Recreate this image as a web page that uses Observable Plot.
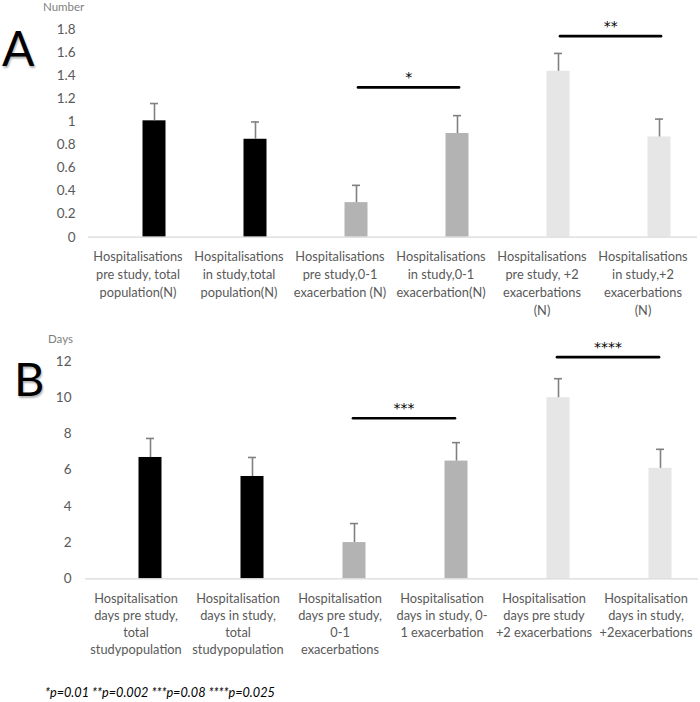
<!DOCTYPE html>
<html><head><meta charset="utf-8">
<script src="https://cdn.jsdelivr.net/npm/d3@7"></script>
<script src="https://cdn.jsdelivr.net/npm/@observablehq/plot@0.6"></script>
<style>
body{margin:0;background:#fff;}
#wrap{position:relative;width:700px;height:702px;overflow:hidden;font-family:Lato,sans-serif;background:#fff;}
.panel{position:absolute;left:0;}
.letter{position:absolute;font-family:Lato,sans-serif;line-height:1;color:#000;text-shadow:1px 2px 2px rgba(0,0,0,0.3);}
.ylab{position:absolute;font-size:11.5px;color:#7f7f7f;line-height:1;}
.foot{position:absolute;left:45px;top:686px;font-size:12.7px;font-style:italic;color:#000;line-height:1;}
</style></head>
<body><div id="wrap"></div>
<script>
// ---- Panel A data ----
const labelsA = [
  "Hospitalisations\npre study, total\npopulation(N)",
  "Hospitalisations\nin study,total\npopulation(N)",
  "Hospitalisations\npre study,0-1\nexacerbation (N)",
  "Hospitalisations\nin study,0-1\nexacerbation(N)",
  "Hospitalisations\npre study, +2\nexacerbations\n(N)",
  "Hospitalisations\nin study,+2\nexacerbations\n(N)"
];
const valuesA = [1.01, 0.85, 0.30, 0.90, 1.44, 0.87];
const errorsA = [0.15, 0.15, 0.15, 0.155, 0.155, 0.155];
const ticksA = [0, 0.2, 0.4, 0.6, 0.8, 1, 1.2, 1.4, 1.6, 1.8];
const sigTextA = ["*", "**"];
const sigFromA = [2, 4];
const sigLevelA = [1.3, 1.745];

// ---- Panel B data ----
const labelsB = [
  "Hospitalisation\ndays pre study,\ntotal\nstudypopulation",
  "Hospitalisation\ndays in study,\ntotal\nstudypopulation",
  "Hospitalisation\ndays pre study,\n0-1\nexacerbations",
  "Hospitalisation\ndays in study, 0-\n1 exacerbation",
  "Hospitalisation\ndays pre study\n+2 exacerbations",
  "Hospitalisation\ndays in study,\n+2exacerbations"
];
const valuesB = [6.7, 5.65, 2.0, 6.5, 10.0, 6.1];
const errorsB = [1.05, 1.05, 1.05, 1.02, 1.05, 1.05];
const ticksB = [0, 2, 4, 6, 8, 10, 12];
const sigTextB = ["***", "****"];
const sigFromB = [2, 4];
const sigLevelB = [8.87, 12.24];

// group per bar (shared)
const groups = ["total", "total", "0-1", "0-1", "+2", "+2"];
const groupNames = ["total", "0-1", "+2"];
const groupColors = ["#000000", "#b3b3b3", "#e6e6e6"];

function panel(o) {
  const rows = o.labels.map((l, i) => ({label: l, value: o.values[i], top: o.values[i] + o.errors[i], group: groups[i]}));
  const sig = [];
  o.sigText.forEach((t, k) => {
    sig.push({k, label: o.labels[o.sigFrom[k]], y: o.sigLevel[k], t});
    sig.push({k, label: o.labels[o.sigFrom[k] + 1], y: o.sigLevel[k], t});
  });
  const sigStart = sig.filter((d, i) => i % 2 === 0);
  const step = (o.xRange[1] - o.xRange[0]) / o.labels.length;
  return Plot.plot({
    width: 700,
    height: o.height,
    marginLeft: o.marginLeft,
    marginRight: o.marginRight,
    style: {fontFamily: "Lato, sans-serif", color: "#595959", background: "transparent", overflow: "visible"},
    x: {type: "band", domain: o.labels, range: o.xRange, paddingInner: 0.775, paddingOuter: 0.3875, axis: null},
    y: {domain: o.yDomain, range: o.yRange, axis: null},
    color: {domain: groupNames, range: groupColors},
    marks: [
      Plot.axisY({ticks: o.ticks, tickSize: 0, tickPadding: o.tickPadding, fontSize: 13.5, label: null, tickFormat: d => String(d)}),
      Plot.barY(rows, {x: "label", y: "value", fill: "group", dx: o.barDx}),
      Plot.ruleY([0], {stroke: "#d9d9d9", strokeWidth: 1.2}),
      Plot.ruleX(rows, {x: "label", y1: "value", y2: "top", stroke: "#808080", strokeWidth: 1.6, dx: o.barDx}),
      Plot.tickY(rows, {x: "label", y: "top", stroke: "#808080", strokeWidth: 1.6, insetLeft: 7.5, insetRight: 7.5, dx: o.barDx}),
      Plot.line(sig, {x: "label", y: "y", z: "k", stroke: "#000", strokeWidth: 2.6, dx: o.sigDx}),
      Plot.text(sigStart, {x: "label", y: "y", text: "t", dx: step / 2 + o.sigDx, dy: -10, fontSize: 14, fontFamily: "DejaVu Sans", fill: "#000", letterSpacing: 1.5}),
      Plot.text(rows, {x: "label", y: () => 0, text: "label", lineAnchor: "top", dy: o.labelDy, fontSize: 12.8, lineHeight: o.lineHeight, fill: "#595959"})
    ]
  });
}

const wrap = document.getElementById("wrap");
function addPanel(o, top) {
  const svg = panel(o);
  svg.classList.add("panel");
  svg.style.top = top + "px";
  wrap.appendChild(svg);
}
function addDiv(cls, text, css) {
  const d = document.createElement("div");
  d.className = cls;
  d.textContent = text;
  Object.assign(d.style, css);
  wrap.appendChild(d);
}

addPanel({labels: labelsA, values: valuesA, errors: errorsA, ticks: ticksA,
  sigText: sigTextA, sigFrom: sigFromA, sigLevel: sigLevelA,
  height: 320, marginLeft: 88, marginRight: 3, tickPadding: 13,
  xRange: [85.2, 694.8], yDomain: [0, 1.8], yRange: [236.7, 29.3],
  barDx: 16.5, sigDx: 18,
  labelDy: 11, lineHeight: 1.41}, 0);

addPanel({labels: labelsB, values: valuesB, errors: errorsB, ticks: ticksB,
  sigText: sigTextB, sigFrom: sigFromB, sigLevel: sigLevelB,
  height: 340, marginLeft: 85, marginRight: 2, tickPadding: 14,
  xRange: [84.8, 696.8], yDomain: [0, 12], yRange: [258.3, 41],
  barDx: 14.5, sigDx: 13,
  labelDy: 12, lineHeight: 1.34}, 320);

addDiv("letter", "A", {left: "2px", top: "24px", fontSize: "48px"});
addDiv("letter", "B", {left: "14px", top: "355px", fontSize: "47px"});
addDiv("ylab", "Number", {left: "43px", top: "1px"});
addDiv("ylab", "Days", {left: "48px", top: "333px"});
addDiv("foot", "*p=0.01 **p=0.002 ***p=0.08 ****p=0.025", {});
</script>
</body></html>
